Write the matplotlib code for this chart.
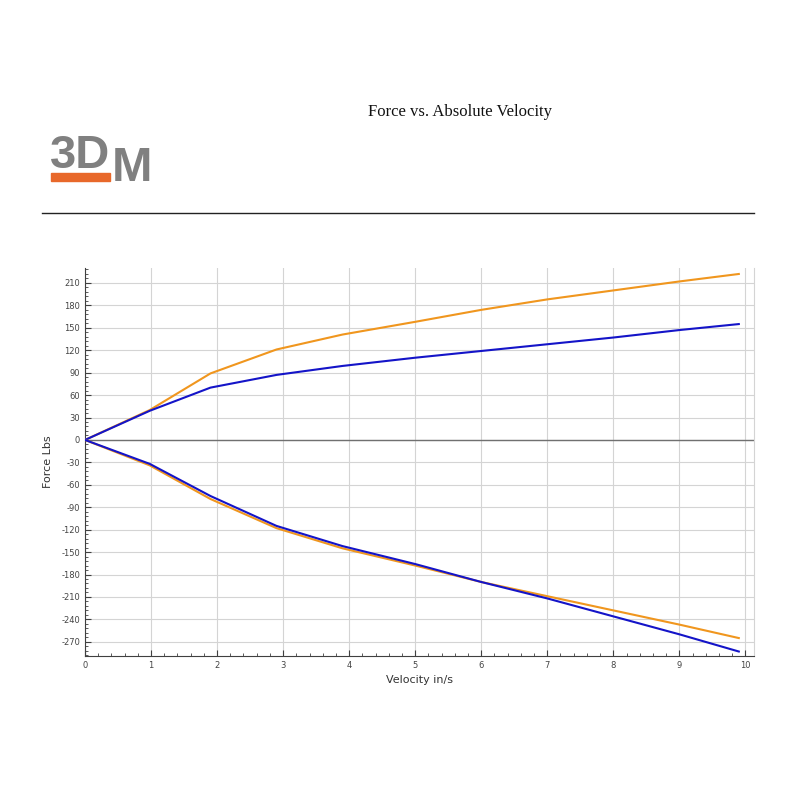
import matplotlib
matplotlib.use("Agg")
import matplotlib.pyplot as plt
from matplotlib.patches import Rectangle
from matplotlib.ticker import MultipleLocator

plt.rcParams["axes.unicode_minus"] = False

# Data
velocity = [0, 0.98, 1.9, 2.9, 3.9, 5, 6, 7, 8, 9, 9.9]
rebound_orange = [0, 40, 89, 121, 141, 158, 174, 188, 200, 212, 222]
rebound_blue = [0, 39, 70, 87, 99, 110, 119, 128, 137, 147, 155]
compression_blue = [0, -32, -75, -115, -142, -166, -190, -212, -236, -260, -283]
compression_orange = [0, -34, -79, -118, -145, -168, -190, -209, -228, -247, -265]

title = "Force vs. Absolute Velocity"
xlabel = "Velocity in/s"
ylabel = "Force Lbs"

ORANGE = "#F0961E"
BLUE = "#1414C8"

fig = plt.figure(figsize=(8, 8), dpi=100)
W, H = 800, 800

left, right, top, bottom = 85, 754, 268, 656
ax = fig.add_axes([left / W, 1 - bottom / H, (right - left) / W, (bottom - top) / H])

ax.plot(velocity, rebound_orange, color=ORANGE, lw=1.5, zorder=3)
ax.plot(velocity, rebound_blue, color=BLUE, lw=1.5, zorder=3)
ax.plot(velocity, compression_orange, color=ORANGE, lw=1.5, zorder=3)
ax.plot(velocity, compression_blue, color=BLUE, lw=1.5, zorder=4)

ax.set_xlim(0, 10.13)
ax.set_ylim(-289, 230)
ax.xaxis.set_major_locator(MultipleLocator(1))
ax.xaxis.set_minor_locator(MultipleLocator(0.2))
ax.yaxis.set_major_locator(MultipleLocator(30))
ax.yaxis.set_minor_locator(MultipleLocator(6))
ax.grid(True, which="major", color="#d4d4d4", lw=0.8)
ax.axhline(0, color="#707070", lw=1.0, zorder=2)

ax.spines["top"].set_visible(False)
ax.spines["right"].set_color("#d4d4d4")
ax.spines["left"].set_color("#404040")
ax.spines["bottom"].set_color("#404040")

ax.tick_params(which="both", direction="in", colors="#404040", labelsize=6, labelcolor="#444444")
ax.tick_params(which="major", length=4)
ax.tick_params(which="minor", length=2)
ax.set_xlabel(xlabel, fontsize=8, color="#333333", labelpad=4)
ax.set_ylabel(ylabel, fontsize=8, color="#333333", labelpad=6)

# Title
fig.text(460 / W, 1 - 112 / H, title, ha="center", va="center",
         family="Liberation Serif", fontsize=12, color="#111111")

# Separator line
fig.add_artist(plt.Line2D([42 / W, 754 / W], [1 - 213 / H, 1 - 213 / H],
                          color="#222222", lw=1.0, transform=fig.transFigure))

# Logo
GRAY = "#808080"
fig.text(50 / W, 1 - 168 / H, "3D", ha="left", va="baseline",
         family="Liberation Sans", weight="bold", fontsize=34, color=GRAY)
fig.text(112 / W, 1 - 181 / H, "M", ha="left", va="baseline",
         family="Liberation Sans", weight="bold", fontsize=35, color=GRAY)
fig.add_artist(Rectangle((51 / W, 1 - 181 / H), 59 / W, 8 / H,
                         transform=fig.transFigure, color="#E8682A"))

fig.savefig("out.png", dpi=100, facecolor="white")
